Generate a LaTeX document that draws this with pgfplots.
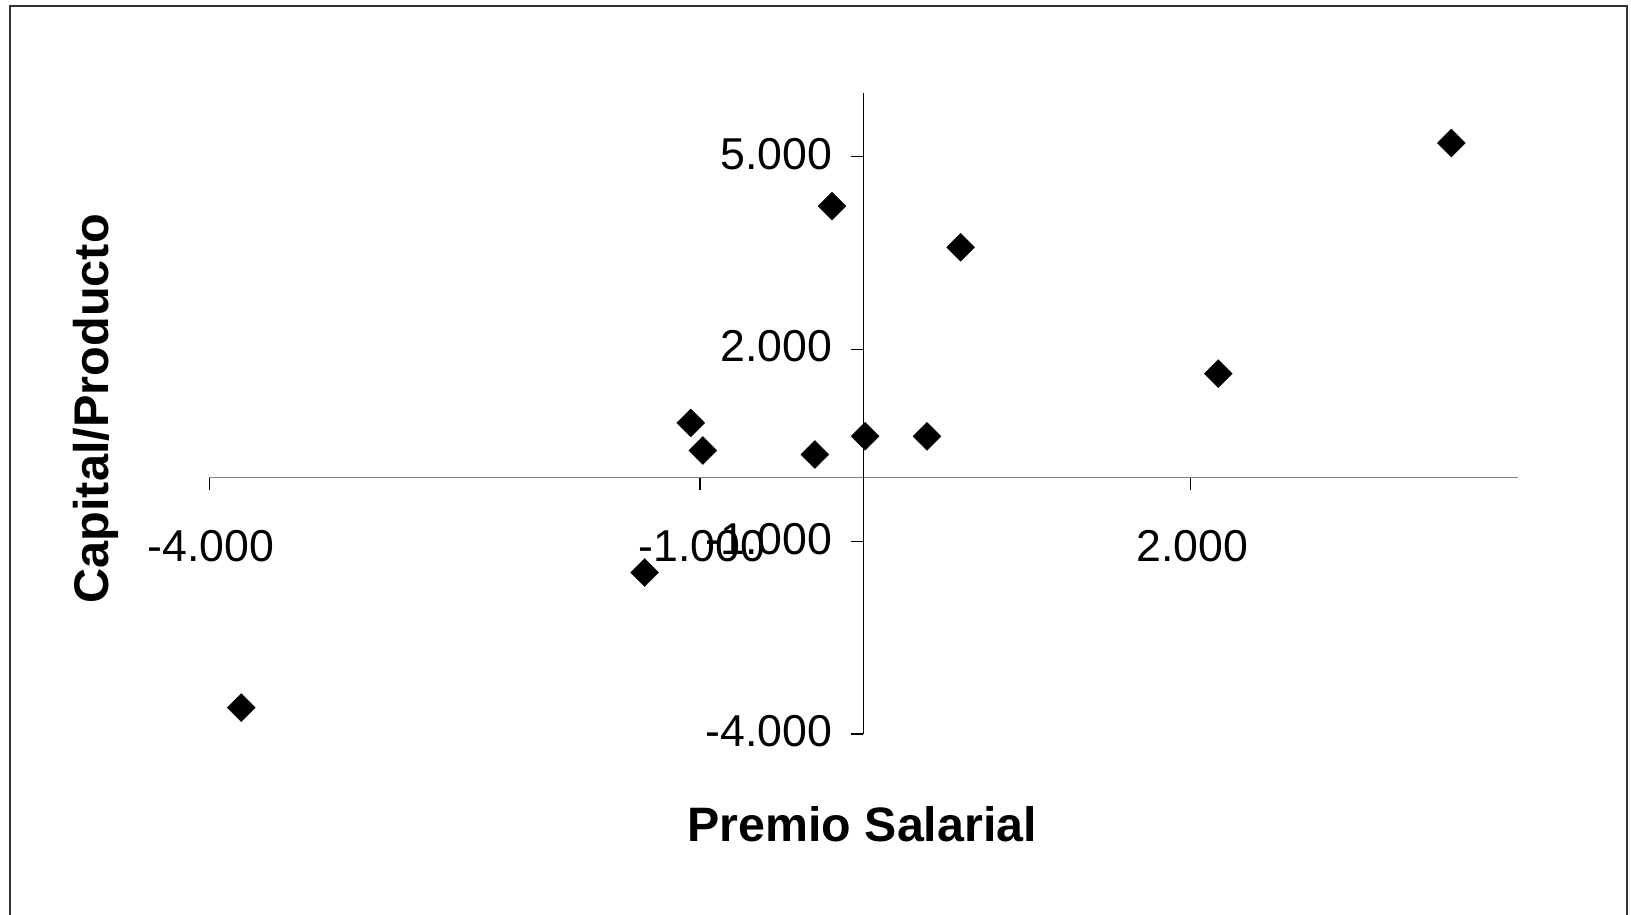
\documentclass[border=0pt]{standalone}
\usepackage{pgfplots}
\pgfplotsset{compat=1.18}
\usepackage{fontspec}
\setmainfont{Liberation Sans}
\begin{document}
\begin{tikzpicture}
\useasboundingbox (-62.85pt,-54.3pt) rectangle (426.45pt,220.2pt);
\draw[black!80, line width=0.6pt] (-59.85pt,-70pt) -- (-59.85pt,218.4pt) -- (425.25pt,218.4pt) -- (425.25pt,-70pt);
\begin{axis}[
  at={(0,0)}, anchor=south west,
  scale only axis,
  width=392.4pt, height=192.4pt,
  xmin=-4, xmax=4, ymin=-4, ymax=6,
  axis lines=middle,
  axis line style={-},
  x axis line style={draw=black!50, line width=0.55pt},
  y axis line style={draw=black, line width=0.35pt},
  xtick={-4,-1,2}, xticklabels={-4.000,-1.000,2.000},
  ytick={-4,-1,2,5}, yticklabels={-4.000,-1.000,2.000,5.000},
  tick style={black, line width=0.35pt},
  tick align=outside,
  major tick length=3.8pt,
  ticklabel style={font=\fontsize{13.4}{16}\selectfont, inner sep=0pt},
  xticklabel style={anchor=north, yshift=-12pt, xshift=0.5pt},
  yticklabel style={anchor=east, xshift=-5.3pt, yshift=0.8pt},
  xlabel={Premio Salarial},
  ylabel={Capital/Producto},
  every axis x label/.style={at={(axis description cs:0.499,-0.140)}, anchor=center, font=\fontsize{14.5}{17}\selectfont\bfseries},
  every axis y label/.style={at={(axis description cs:-0.0868,0.507)}, anchor=center, rotate=90, font=\fontsize{14.6}{17}\selectfont\bfseries},
  clip=false,
]
\addplot[only marks, mark=square*, mark size=2.97pt, mark options={rotate=45, fill=black, draw=black, line width=0.1pt}] coordinates {
(-3.806,-3.588)
(-1.338,-1.482)
(-1.057,0.851)
(-0.982,0.420)
(-0.297,0.358)
(-0.193,4.230)
(0.010,0.642)
(0.388,0.640)
(0.594,3.590)
(2.170,1.620)
(3.595,5.215)
};
\end{axis}
\end{tikzpicture}
\end{document}
